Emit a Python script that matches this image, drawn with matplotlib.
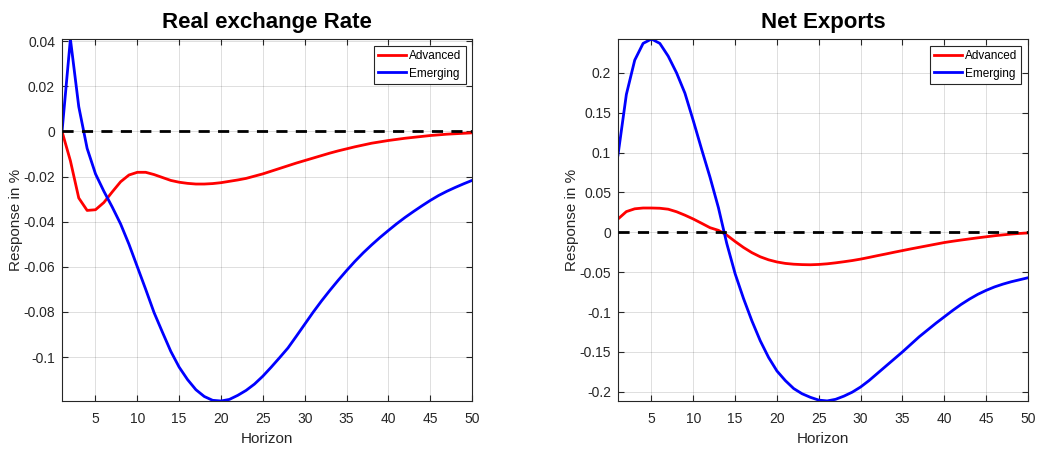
import matplotlib
matplotlib.use('Agg')
import matplotlib.pyplot as plt
from matplotlib.ticker import FuncFormatter
import numpy as np

plt.rcParams['font.family'] = ['Liberation Sans', 'DejaVu Sans']

horizon = np.arange(1, 51)

# Real exchange rate responses (%)
rer_advanced = [
    0.0, -0.013, -0.0295, -0.035, -0.0347, -0.0315, -0.0268, -0.0223, -0.0193, -0.0181,
    -0.0181, -0.0191, -0.0204, -0.0217, -0.0225, -0.0230, -0.0233, -0.0233, -0.0231, -0.0227,
    -0.0221, -0.0215, -0.0208, -0.0198, -0.0188, -0.0176, -0.0164, -0.0152, -0.0140, -0.0129,
    -0.0118, -0.0107, -0.0096, -0.0086, -0.0077, -0.0068, -0.0060, -0.0052, -0.0046, -0.0040,
    -0.0035, -0.0030, -0.0026, -0.0022, -0.0018, -0.0015, -0.0012, -0.0010, -0.0008, -0.0006,
]
rer_emerging = [
    0.0, 0.041, 0.011, -0.0075, -0.0188, -0.0265, -0.0335, -0.041, -0.050, -0.060,
    -0.070, -0.0803, -0.089, -0.0975, -0.1045, -0.110, -0.1145, -0.1175, -0.1192, -0.1195,
    -0.1188, -0.117, -0.1148, -0.112, -0.1085, -0.1045, -0.1003, -0.096, -0.0908, -0.0855,
    -0.0802, -0.0752, -0.0705, -0.0660, -0.0617, -0.0576, -0.0538, -0.0503, -0.0470, -0.0439,
    -0.0409, -0.0381, -0.0355, -0.0330, -0.0306, -0.0284, -0.0265, -0.0248, -0.0232, -0.0217,
]

# Net exports responses (%)
nx_advanced = [
    0.0167, 0.026, 0.0295, 0.0305, 0.0305, 0.0302, 0.029, 0.0258, 0.0215, 0.0167,
    0.0113, 0.0058, 0.0025, -0.0035, -0.0115, -0.0190, -0.0255, -0.0307, -0.0345, -0.0372,
    -0.0390, -0.0400, -0.0405, -0.0407, -0.0403, -0.0395, -0.0383, -0.0369, -0.0354, -0.0336,
    -0.0315, -0.0293, -0.0272, -0.0250, -0.0229, -0.0208, -0.0188, -0.0168, -0.0148, -0.0128,
    -0.0112, -0.0097, -0.0083, -0.0069, -0.0056, -0.0043, -0.0032, -0.0022, -0.0014, -0.0008,
]
nx_emerging = [
    0.097, 0.173, 0.216, 0.237, 0.2425, 0.237, 0.221, 0.200, 0.1745, 0.140,
    0.104, 0.069, 0.031, -0.014, -0.052, -0.083, -0.111, -0.136, -0.157, -0.174,
    -0.186, -0.196, -0.2025, -0.207, -0.2105, -0.2115, -0.2095, -0.2055, -0.2005, -0.194,
    -0.186, -0.177, -0.168, -0.159, -0.150, -0.1405, -0.131, -0.1225, -0.114, -0.106,
    -0.098, -0.0905, -0.0838, -0.0778, -0.0728, -0.0685, -0.065, -0.062, -0.0595, -0.057,
]

panels = [
    ('Real exchange Rate', rer_advanced, rer_emerging, np.arange(-0.1, 0.041, 0.02), (-0.1195, 0.041)),
    ('Net Exports', nx_advanced, nx_emerging, np.arange(-0.2, 0.201, 0.05), (-0.2116, 0.2425)),
]
positions = [[0.0597, 0.1089, 0.3946, 0.8044], [0.5948, 0.1089, 0.3946, 0.8044]]

fig = plt.figure(figsize=(10.39, 4.5), dpi=100)
tick_color = '#262626'

for pos, (title, adv, emg, yticks, ylim) in zip(positions, panels):
    ax = fig.add_axes(pos)
    ax.plot(horizon, adv, color='#ff0000', lw=2.0, label='Advanced')
    ax.plot(horizon, emg, color='#0000ff', lw=2.0, label='Emerging')
    ax.axhline(0, color='black', lw=2.0, ls=(0, (4, 3)), zorder=3)
    ax.set_xlim(1, 50)
    ax.set_ylim(*ylim)
    ax.set_xticks(np.arange(5, 51, 5))
    ax.set_yticks(yticks)
    ax.yaxis.set_major_formatter(FuncFormatter(lambda v, p: '%g' % (round(v, 4) + 0.0)))
    ax.grid(True, color='#000000', alpha=0.13, lw=0.7)
    ax.tick_params(direction='in', top=True, right=True, length=4, width=0.8,
                   labelsize=10, colors=tick_color)
    ax.tick_params(axis='x', pad=8)
    ax.tick_params(axis='y', pad=5)
    for s in ax.spines.values():
        s.set_color(tick_color)
        s.set_linewidth(0.8)
    ax.set_title(title, fontsize=16, fontweight='bold', pad=8)
    ax.set_xlabel('Horizon', fontsize=11, color=tick_color, labelpad=4)
    ax.set_ylabel('Response in %', fontsize=11, color=tick_color, labelpad=0)
    leg = ax.legend(loc='upper right', fontsize=8.5, fancybox=False, framealpha=1,
                    edgecolor=tick_color, handlelength=2.3, borderpad=0.35,
                    labelspacing=0.5, handletextpad=0.3, borderaxespad=0.55)
    leg.get_frame().set_linewidth(0.8)

fig.savefig('out.png', dpi=100)
plt.close(fig)
